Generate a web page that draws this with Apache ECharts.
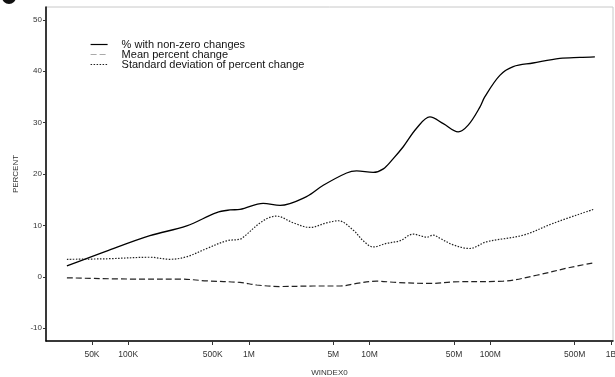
<!DOCTYPE html>
<html>
<head>
<meta charset="utf-8">
<script src="https://cdn.jsdelivr.net/npm/echarts@6/dist/echarts.min.js"></script>
<style>html,body{margin:0;padding:0;background:#fff}#c{width:615px;height:377px}</style>
</head>
<body>
<div id="c"></div>
<script>
// X tick values (WINDEX0) and their labels
var xTickValues = [5e4, 1e5, 5e5, 1e6, 5e6, 1e7, 5e7, 1e8, 5e8, 1e9];
var xTickLabels = ['50K', '100K', '500K', '1M', '5M', '10M', '50M', '100M', '500M', '1B'];
var yTickValues = [-10, 0, 10, 20, 30, 40, 50];

// % with non-zero changes
var nzX = [31000, 66000, 151000, 305000, 540000, 696000, 842000, 1310000, 1810000, 3000000, 4130000, 6450000, 7800000, 10700000, 13000000, 15700000, 19000000, 24500000, 31600000, 40800000, 54200000, 65600000, 82000000, 90000000, 120000000, 155000000, 226000000, 377000000, 553000000, 736000000];
var nzY = [2.1, 5.0, 8.0, 9.9, 12.5, 13.0, 13.1, 14.3, 13.9, 15.6, 17.8, 20.2, 20.6, 20.3, 21.0, 23.0, 25.3, 28.9, 31.1, 29.8, 28.2, 29.5, 33.0, 35.0, 39.2, 40.9, 41.6, 42.5, 42.7, 42.8];

// Mean percent change
var meanX = [31000, 125000, 268000, 447000, 842000, 1160000, 1810000, 3400000, 5700000, 7800000, 11400000, 16700000, 31600000, 49300000, 128000000, 242000000, 456000000, 713000000];
var meanY = [-0.2, -0.45, -0.45, -0.8, -1.1, -1.6, -1.9, -1.8, -1.8, -1.3, -0.85, -1.1, -1.3, -1.0, -0.85, 0.3, 1.8, 2.7];

// Standard deviation of percent change
var sdX = [31000, 66000, 151000, 221000, 305000, 447000, 653000, 842000, 898000, 1310000, 1690000, 2330000, 3200000, 4400000, 5500000, 7300000, 8850000, 10700000, 13800000, 17800000, 23000000, 27000000, 29700000, 33700000, 38200000, 49300000, 67700000, 93000000, 188000000, 332000000, 713000000];
var sdY = [3.4, 3.5, 3.8, 3.4, 3.9, 5.5, 7.0, 7.3, 7.7, 10.9, 11.8, 10.5, 9.6, 10.5, 10.9, 9.1, 7.0, 5.8, 6.5, 7.0, 8.3, 7.9, 7.7, 8.1, 7.5, 6.2, 5.5, 6.8, 8.1, 10.4, 13.1];

function pairs(xs, ys) {
  return xs.map(function (x, i) { return [Math.log10(x), ys[i]]; });
}
var xTickLogs = xTickValues.map(function (v) { return Math.log10(v); });
var FONT = '"Liberation Sans", Arial, sans-serif';

var chart = echarts.init(document.getElementById('c'), null, {renderer: 'canvas'});
chart.setOption({
  animation: false,
  backgroundColor: '#fff',
  grid: {left: 46, right: 2, top: 7, bottom: 36, containLabel: false, outerBoundsMode: 'none',
         show: true, borderColor: '#c8c8c8', borderWidth: 1, backgroundColor: 'transparent'},
  legend: {
    orient: 'vertical', left: 90, top: 39, padding: 0,
    itemWidth: 17, itemHeight: 6, itemGap: -1,
    itemStyle: {opacity: 0},
    textStyle: {fontFamily: FONT, fontSize: 11, color: '#111', lineHeight: 9, padding: [0, 0, 0, 9]},
    data: [
      {name: '% with non-zero changes', lineStyle: {width: 1.2}},
      {name: 'Mean percent change', lineStyle: {color: '#aaa', width: 1}},
      {name: 'Standard deviation of percent change', lineStyle: {width: 1}}
    ]
  },
  xAxis: {
    type: 'value', min: Math.log10(20800), max: Math.log10(1.04e9),
    name: 'WINDEX0', nameLocation: 'middle', nameGap: 28,
    nameTextStyle: {fontFamily: FONT, fontSize: 8, color: '#333'},
    axisLine: {show: true, onZero: false, lineStyle: {color: '#000', width: 1.5}},
    axisTick: {show: true, length: 4, customValues: xTickLogs, lineStyle: {color: '#333'}},
    axisLabel: {
      customValues: xTickLogs, margin: 9, fontFamily: FONT, fontSize: 8.5, color: '#333',
      formatter: function (v) {
        var best = 0, d = 1e9;
        for (var i = 0; i < xTickLogs.length; i++) { var dd = Math.abs(xTickLogs[i] - v); if (dd < d) { d = dd; best = i; } }
        return xTickLabels[best];
      }
    },
    splitLine: {show: false}
  },
  yAxis: {
    type: 'value', min: -12.5, max: 52.5,
    name: 'PERCENT', nameLocation: 'middle', nameGap: 23, nameRotate: 90,
    nameTextStyle: {fontFamily: FONT, fontSize: 8, color: '#333'},
    axisLine: {show: true, onZero: false, lineStyle: {color: '#000', width: 1.5}},
    axisTick: {show: true, length: 3, customValues: yTickValues, lineStyle: {color: '#333'}},
    axisLabel: {customValues: yTickValues, margin: 4, fontFamily: FONT, fontSize: 8, color: '#333'},
    splitLine: {show: false}
  },
  series: [
    {name: '% with non-zero changes', type: 'line', data: pairs(nzX, nzY), smooth: 0.35, symbol: 'none',
     lineStyle: {color: '#000', width: 1.3, type: 'solid'}, itemStyle: {color: '#000'}},
    {name: 'Mean percent change', type: 'line', data: pairs(meanX, meanY), smooth: 0.35, symbol: 'none',
     lineStyle: {color: '#222', width: 1.2, type: [6, 3]}, itemStyle: {color: '#999'}},
    {name: 'Standard deviation of percent change', type: 'line', data: pairs(sdX, sdY), smooth: 0.35, symbol: 'none',
     lineStyle: {color: '#222', width: 1.2, type: [1.5, 1.5]}, itemStyle: {color: '#333'}}
  ],
  graphic: [
    {type: 'circle', shape: {cx: 9, cy: -3, r: 7}, style: {fill: '#111'}}
  ]
});
</script>
</body>
</html>
